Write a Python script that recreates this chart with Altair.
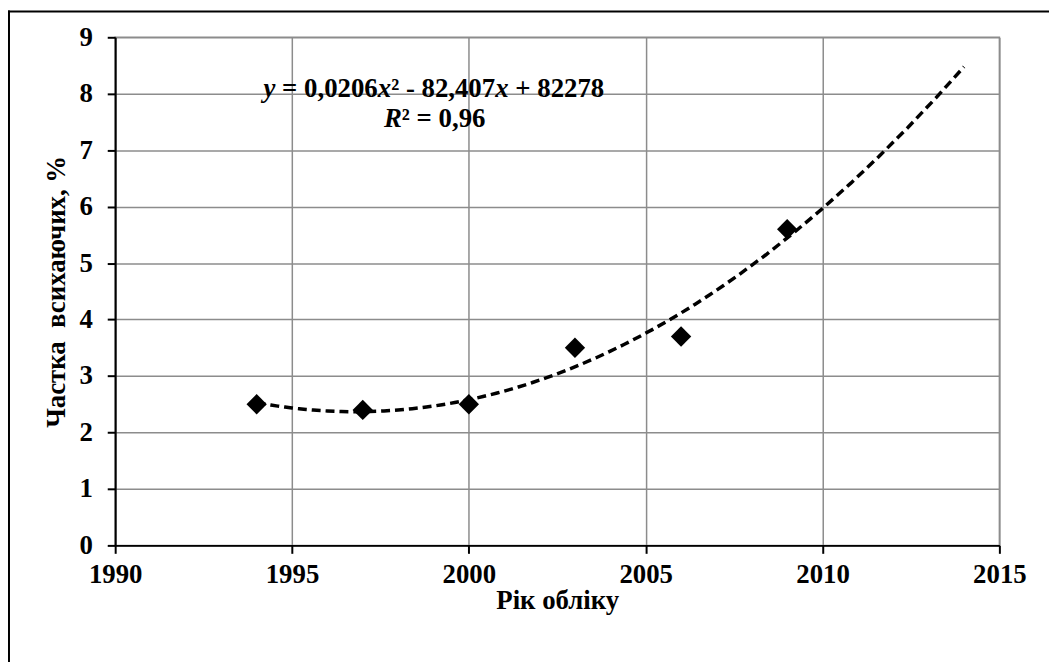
import altair as alt
import pandas as pd

years = [1994, 1997, 2000, 2003, 2006, 2009]
values = [2.5, 2.4, 2.5, 3.5, 3.7, 5.6]
x_ticks = [1990, 1995, 2000, 2005, 2010, 2015]
y_ticks = [0, 1, 2, 3, 4, 5, 6, 7, 8, 9]
x_title = "Рік обліку"
y_title = "Частка\u00a0\u00a0всихаючих, %"

# equation annotation pieces: (text, italic?)
eq_line1 = [("y", True), ("= 0,0206", False), ("x", True), ("² - 82,407", False), ("x", True), ("+ 82278", False)]
eq_line2 = [("R", True), ("² = 0,96", False)]

# layout (pixel offsets of annotation pieces inside the plot area)
eq1_x = [149.5, 168.2, 264.6, 278.1, 383.0, 403.2]
eq2_x = [270.9, 288.9]
eq1_y, eq2_y = 60, 90

df = pd.DataFrame({"year": years, "val": values})

FONT = "Liberation Serif"

x_enc = alt.X("year:Q", scale=alt.Scale(domain=[1990, 2015], nice=False, zero=False),
              axis=alt.Axis(values=x_ticks, format="d", title=x_title))
y_enc = alt.Y("val:Q", scale=alt.Scale(domain=[0, 9], nice=False),
              axis=alt.Axis(values=y_ticks, title=y_title))

base = alt.Chart(df)

trend = base.transform_regression(
    "year", "val", method="poly", order=2, extent=[1994, 2014]
).mark_line(color="black", strokeWidth=3.5, strokeDash=[9, 5]).encode(x=x_enc, y=y_enc)

points = base.mark_point(shape="diamond", filled=True, size=420, color="black", opacity=1).encode(
    x=x_enc, y=y_enc)

layers = [trend, points]
one = pd.DataFrame({"a": [0]})
for pieces, xs, yy in ((eq_line1, eq1_x, eq1_y), (eq_line2, eq2_x, eq2_y)):
    for (txt, ital), xx in zip(pieces, xs):
        layers.append(
            alt.Chart(one).mark_text(
                font=FONT, fontWeight="bold", fontStyle="italic" if ital else "normal",
                fontSize=27, align="left", baseline="alphabetic", color="black", text=txt
            ).encode(x=alt.value(xx), y=alt.value(yy))
        )

left_border = alt.Chart(one).mark_rule(color="black", strokeWidth=2).encode(
    x=alt.value(-107), y=alt.value(-27), y2=alt.value(700))
top_border = alt.Chart(one).mark_rule(color="black", strokeWidth=2).encode(
    x=alt.value(-108), x2=alt.value(1000), y=alt.value(-26))
layers += [left_border, top_border]

chart = alt.layer(*layers).properties(
    width=891, height=512,
    autosize=alt.AutoSizeParams(type="none"),
    padding={"left": 108, "top": 27, "right": 50, "bottom": 115},
).configure_view(
    stroke="#8c8c8c", strokeWidth=1.5
).configure_axis(
    labelFont=FONT, labelFontWeight="bold", labelFontSize=27, labelColor="black",
    titleFont=FONT, titleFontWeight="bold", titleFontSize=27, titleColor="black",
    domainColor="black", domainWidth=2, tickColor="black", tickWidth=2, tickSize=8,
    gridColor="#8c8c8c", gridWidth=1.5, grid=True, labelFlush=False, labelOverlap=False,
).configure_axisX(
    labelPadding=8, titlePadding=1,
).configure_axisY(
    labelPadding=15, titlePadding=9,
)

chart.save("out.html", embed_options={"renderer": "svg", "actions": False})
